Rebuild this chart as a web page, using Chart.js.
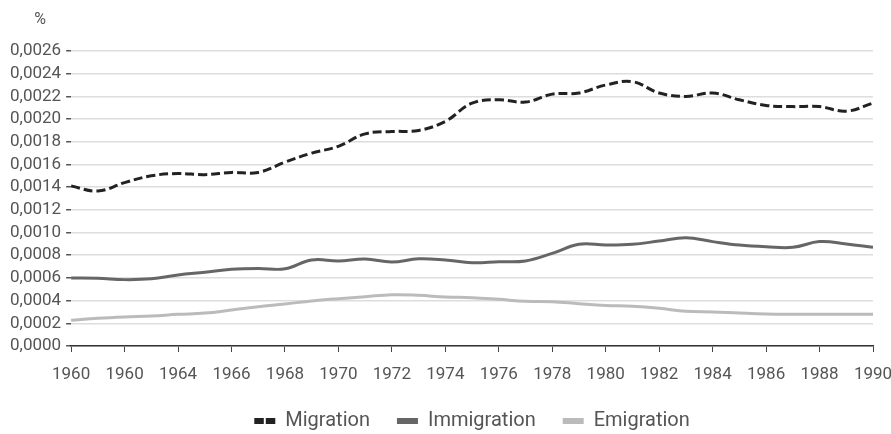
<!DOCTYPE html>
<html>
<head>
<meta charset="utf-8">
<script src="https://cdn.jsdelivr.net/npm/chart.js@4.4.0/dist/chart.umd.min.js"></script>
<style>
  html, body { margin: 0; padding: 0; background: #fff; }
  #wrap { width: 891px; height: 434px; }
</style>
</head>
<body>
<div id="wrap"><canvas id="myChart" width="891" height="434"></canvas></div>
<script>
// years on the x axis (one point per year)
const years = [1960, 1961, 1962, 1963, 1964, 1965, 1966, 1967, 1968, 1969,
    1970, 1971, 1972, 1973, 1974, 1975, 1976, 1977, 1978, 1979,
    1980, 1981, 1982, 1983, 1984, 1985, 1986, 1987, 1988, 1989, 1990]

const migration = [0.00141, 0.001366, 0.00144, 0.0015, 0.00152, 0.00151, 0.00153, 0.00153, 0.00162, 0.0017,
    0.00176, 0.00187, 0.00189, 0.0019, 0.00198, 0.00214, 0.00217, 0.00215, 0.00222, 0.00223,
    0.0023, 0.00233, 0.00223, 0.0022, 0.00223, 0.00217, 0.00212, 0.00211, 0.00211, 0.00207, 0.00214]

const immigration = [0.0006, 0.000597, 0.000585, 0.000592, 0.000626, 0.00065, 0.000676, 0.000684, 0.00068, 0.000758,
    0.00075, 0.000766, 0.00074, 0.000769, 0.000758, 0.000734, 0.000743, 0.00075, 0.000816, 0.000896,
    0.00089, 0.000896, 0.000925, 0.000954, 0.00092, 0.00089, 0.000875, 0.00087, 0.00092, 0.0009, 0.00087]

const emigration = [0.000226, 0.000244, 0.000256, 0.000264, 0.000279, 0.00029, 0.000317, 0.000346, 0.00037, 0.000397,
    0.000417, 0.000434, 0.000452, 0.000447, 0.000432, 0.000426, 0.000411, 0.000394, 0.00039, 0.000373,
    0.000358, 0.00035, 0.000332, 0.000306, 0.0003, 0.00029, 0.000282, 0.00028, 0.00028, 0.00028, 0.00028]

// tick labels as printed in the source (second one really says 1960)
const xTickLabels = ['1960', '1960', '1964', '1966', '1968', '1970', '1972', '1974',
    '1976', '1978', '1980', '1982', '1984', '1986', '1988', '1990']
const yTickLabels = ['0,0000', '0,0002', '0,0004', '0,0006', '0,0008', '0,0010', '0,0012',
    '0,0014', '0,0016', '0,0018', '0,0020', '0,0022', '0,0024', '0,0026']

const seriesNames = ['Migration', 'Immigration', 'Emigration']

function toPoints(arr) {
    return arr.map((v, i) => ({ x: years[i], y: v }))
}

const font = "Roboto, 'Noto Sans', sans-serif"

// "%" unit label above the y axis
const unitLabel = {
    id: 'unitLabel',
    afterDraw(chart) {
        const ctx = chart.ctx
        ctx.save()
        ctx.font = '16px ' + font
        ctx.fillStyle = '#555'
        ctx.textAlign = 'center'
        ctx.textBaseline = 'middle'
        ctx.fillText('%', 40, 20)
        ctx.restore()
    }
}

const data = {
    datasets: [{
        label: seriesNames[0],
        data: toPoints(migration),
        borderColor: '#222',
        backgroundColor: '#222',
        borderWidth: 3,
        borderDash: [9, 4],
        pointRadius: 0,
        tension: 0.4
    }, {
        label: seriesNames[1],
        data: toPoints(immigration),
        borderColor: '#666',
        backgroundColor: '#666',
        borderWidth: 3,
        pointRadius: 0,
        tension: 0.4
    }, {
        label: seriesNames[2],
        data: toPoints(emigration),
        borderColor: '#bbb',
        backgroundColor: '#bbb',
        borderWidth: 3,
        pointRadius: 0,
        tension: 0.4
    }]
}

const config = {
    type: 'line',
    data: data,
    plugins: [unitLabel],
    options: {
        responsive: false,
        animation: false,
        layout: {
            padding: { top: 51, left: 5, right: 0, bottom: 0 }
        },
        plugins: {
            tooltip: { enabled: false },
            legend: {
                position: 'bottom',
                fullSize: false,
                maxHeight: 50,
                labels: {
                    usePointStyle: true,
                    pointStyleWidth: 21,
                    boxWidth: 21,
                    boxHeight: 6,
                    padding: 27,
                    color: '#555',
                    font: { family: font, size: 20 },
                    generateLabels: (chart) => {
                        const items = Chart.defaults.plugins.legend.labels.generateLabels(chart)
                        items.forEach((it, i) => {
                            it.pointStyle = 'line'
                            it.lineWidth = 6
                            it.lineDash = i === 0 ? [9.5, 2] : []
                        })
                        return items
                    }
                }
            }
        },
        scales: {
            x: {
                type: 'linear',
                min: 1960,
                max: 1990,
                afterFit: (s) => {
                    s.height = 38
                    s.paddingRight = 18
                },
                ticks: {
                    stepSize: 2,
                    color: '#555',
                    padding: 14,
                    maxRotation: 0,
                    font: { family: font, size: 17, lineHeight: 1 },
                    callback: (value, index) => xTickLabels[index]
                },
                grid: {
                    drawOnChartArea: false,
                    drawTicks: true,
                    tickLength: 6,
                    tickColor: '#444'
                },
                border: { color: '#333', width: 1.5 }
            },
            y: {
                min: 0,
                max: 0.0026,
                ticks: {
                    stepSize: 0.0002,
                    autoSkip: false,
                    color: '#555',
                    padding: 5,
                    font: { family: font, size: 17 },
                    callback: (value, index) => yTickLabels[index]
                },
                grid: {
                    color: '#ddd',
                    lineWidth: 1.5,
                    tickLength: 5,
                    tickColor: '#555'
                },
                border: { display: false }
            }
        }
    }
}

var myChart = new Chart(document.getElementById('myChart'), config)
</script>
</body>
</html>
